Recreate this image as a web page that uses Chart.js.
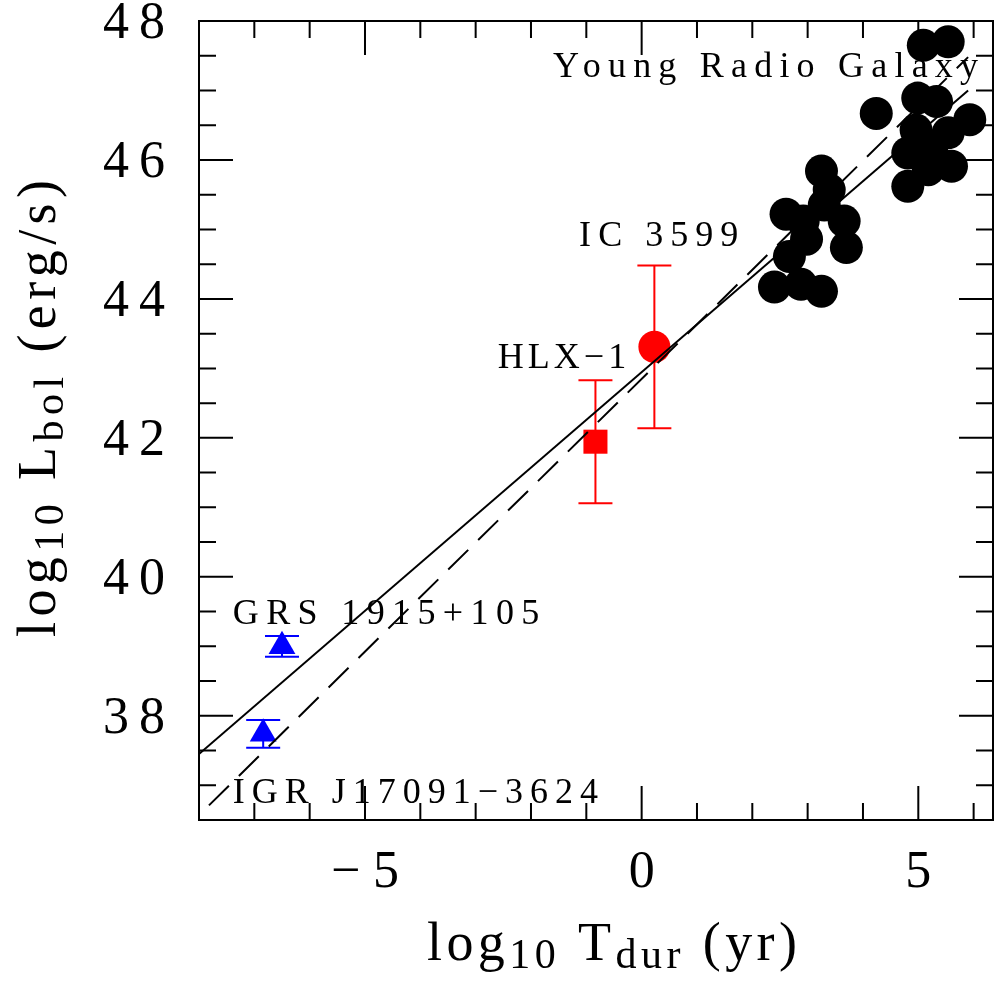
<!DOCTYPE html>
<html>
<head>
<meta charset="utf-8">
<script src="https://cdn.jsdelivr.net/npm/chart.js@4.4.1/dist/chart.umd.min.js"></script>
<style>
  html, body { margin: 0; padding: 0; background: #fff; overflow: hidden; }
  #wrap { width: 995px; height: 982px; overflow: hidden; }
  #c { display: block; }
</style>
</head>
<body>
<div id="wrap"><canvas id="c" width="995" height="982"></canvas></div>
<script>
// fit lines
const lineX = [-8, 5.9];
const solidY = [37.45, 47.0];
const dashX = [-7.82, 5.9];
const dashY = [36.71, 47.48];

// young radio galaxies (black)
const rgX = [3.25, 3.39, 3.30, 2.61, 2.92, 3.66, 2.98, 3.70, 2.67, 2.40, 2.88, 3.25,
             5.09, 5.54, 4.24, 4.99, 5.33, 5.93, 4.96, 5.54, 4.81, 5.24, 5.60, 4.81, 5.18];
const rgY = [45.84, 45.57, 45.35, 45.22, 45.12, 45.12, 44.86, 44.74, 44.61, 44.17, 44.21, 44.11,
             47.65, 47.70, 46.67, 46.89, 46.84, 46.58, 46.43, 46.39, 46.10, 46.15, 45.91, 45.62, 45.86];

// X-ray binaries (blue)
const xrbX = [-6.50, -6.84];
const xrbY = [39.0, 37.74];
const xrbErr = [0.15, 0.2];

// HLX-1 and IC 3599 (red)
const hlxX = [-0.835], hlxY = [41.945], hlxErr = [0.885];
const icX = [0.23], icY = [43.31], icErr = [1.17];

// tick labels
const xTickVals = [-5, 0, 5];
const xTickText = ['\u22125', '0', '5'];
const yTickVals = [38, 40, 42, 44, 46, 48];

// annotations
const noteText = ['Young Radio Galaxy', 'IC 3599', 'HLX\u22121', 'GRS 1915+105', 'IGR J17091\u22123624'];
const noteX0 = [-1.60, -1.13, -2.60, -7.39, -7.39];
const noteX1 = [6.08, 1.745, -0.28, -1.85, -0.79];
const noteY = [47.19, 44.76, 43.01, 39.32, 36.74];

const SERIF = '"Liberation Serif", "DejaVu Serif", serif';

function fitText(ctx, str, x0, w, y) {
  ctx.letterSpacing = '0px';
  ctx.textAlign = 'left';
  if (str.length < 2) { ctx.fillText(str, x0, y); return; }
  const nat = ctx.measureText(str).width;
  const sp = (w - nat) / (str.length - 1);
  ctx.letterSpacing = sp + 'px';
  ctx.fillText(str, x0, y);
  ctx.letterSpacing = '0px';
}

// pieces: [text, isSub]; drawn along +x from 0 with baseline 0
function richText(ctx, pieces, width, mainPx, subPx, subDrop) {
  let nat = 0, n = 0;
  pieces.forEach(p => {
    ctx.font = (p[1] ? subPx : mainPx) + 'px ' + SERIF;
    ctx.letterSpacing = '0px';
    nat += ctx.measureText(p[0]).width;
    n += p[0].length;
  });
  const sp = (width - nat) / (n - 1);
  let x = 0;
  ctx.textAlign = 'left';
  pieces.forEach(p => {
    ctx.font = (p[1] ? subPx : mainPx) + 'px ' + SERIF;
    ctx.letterSpacing = sp + 'px';
    ctx.fillText(p[0], x, p[1] ? subDrop : 0);
    x += ctx.measureText(p[0]).width;
  });
  ctx.letterSpacing = '0px';
}

const errPlugin = {
  id: 'errbars',
  beforeDatasetsDraw(chart) {
    const ctx = chart.ctx, xs = chart.scales.x, ys = chart.scales.y;
    const draw = (xa, ya, ea, color) => {
      ctx.save();
      ctx.strokeStyle = color;
      ctx.lineWidth = 2;
      xa.forEach((xv, i) => {
        const px = xs.getPixelForValue(xv);
        const top = ys.getPixelForValue(ya[i] + ea[i]);
        const bot = ys.getPixelForValue(ya[i] - ea[i]);
        ctx.beginPath();
        ctx.moveTo(px, top); ctx.lineTo(px, bot);
        ctx.moveTo(px - 17, top); ctx.lineTo(px + 17, top);
        ctx.moveTo(px - 17, bot); ctx.lineTo(px + 17, bot);
        ctx.stroke();
      });
      ctx.restore();
    };
    draw(xrbX, xrbY, xrbErr, '#0000ff');
    draw(hlxX, hlxY, hlxErr, '#ff0000');
    draw(icX, icY, icErr, '#ff0000');
  }
};

const framePlugin = {
  id: 'frame',
  beforeDraw(chart) {
    const ctx = chart.ctx;
    ctx.save();
    ctx.fillStyle = '#fff';
    ctx.fillRect(0, 0, chart.width, chart.height);
    ctx.restore();
  },
  afterDatasetsDraw(chart) {
    const ctx = chart.ctx, a = chart.chartArea;
    const xs = chart.scales.x, ys = chart.scales.y;
    ctx.save();
    ctx.strokeStyle = '#000';
    ctx.lineWidth = 2;
    ctx.strokeRect(a.left, a.top, a.right - a.left, a.bottom - a.top);

    ctx.beginPath();
    for (let v = -8; v <= 6; v++) {
      const px = xs.getPixelForValue(v);
      const len = (v % 5 === 0) ? 34 : 17;
      ctx.moveTo(px, a.bottom); ctx.lineTo(px, a.bottom - len);
      ctx.moveTo(px, a.top); ctx.lineTo(px, a.top + len);
    }
    for (let v = 37; v <= 48; v += 0.5) {
      const py = ys.getPixelForValue(v);
      const len = (v % 2 === 0) ? 34 : 17;
      ctx.moveTo(a.left, py); ctx.lineTo(a.left + len, py);
      ctx.moveTo(a.right, py); ctx.lineTo(a.right - len, py);
    }
    ctx.stroke();

    ctx.fillStyle = '#000';
    ctx.font = '52px ' + SERIF;
    xTickVals.forEach((v, i) => {
      const px = xs.getPixelForValue(v);
      const s = xTickText[i];
      if (s.length > 1) fitText(ctx, s, px - 34, 68, a.bottom + 67);
      else { ctx.textAlign = 'center'; ctx.fillText(s, px, a.bottom + 67); }
    });
    yTickVals.forEach(v => {
      const py = ys.getPixelForValue(v);
      fitText(ctx, String(v), a.left - 96, 62, py + 17);
    });

    // axis titles
    ctx.save();
    ctx.translate(427, 960);
    richText(ctx, [['log', 0], ['10', 1], [' T', 0], ['dur', 1], [' (yr)', 0]], 370, 54, 42, 8);
    ctx.restore();
    ctx.save();
    ctx.translate(55, 637);
    ctx.rotate(-Math.PI / 2);
    richText(ctx, [['log', 0], ['10', 1], [' L', 0], ['bol', 1], [' (erg/s)', 0]], 457, 54, 42, 8);
    ctx.restore();

    // annotations
    ctx.font = '36px ' + SERIF;
    noteText.forEach((t, i) => {
      const x0 = xs.getPixelForValue(noteX0[i]);
      const x1 = xs.getPixelForValue(noteX1[i]);
      fitText(ctx, t, x0, x1 - x0, ys.getPixelForValue(noteY[i]));
    });
    ctx.restore();
  }
};

const pts = (xa, ya) => xa.map((x, i) => ({ x: x, y: ya[i] }));

new Chart(document.getElementById('c').getContext('2d'), {
  type: 'scatter',
  data: {
    datasets: [
      { type: 'line', data: pts(lineX, solidY), borderColor: '#000', borderWidth: 2, pointRadius: 0, fill: false, tension: 0 },
      { type: 'line', data: pts(dashX, dashY), borderColor: '#000', borderWidth: 2, borderDash: [28, 14], pointRadius: 0, fill: false, tension: 0 },
      { data: pts(icX, icY), pointRadius: 16, backgroundColor: '#ff0000', borderWidth: 0 },
      { data: pts(hlxX, hlxY), pointStyle: 'rect', pointRadius: 17, backgroundColor: '#ff0000', borderWidth: 0 },
      { data: pts(xrbX, xrbY), pointStyle: 'triangle', pointRadius: 15.5, backgroundColor: '#0000ff', borderWidth: 0 },
      { data: pts(rgX, rgY), pointRadius: 16.5, backgroundColor: '#000', borderWidth: 0 }
    ]
  },
  options: {
    responsive: false,
    animation: false,
    devicePixelRatio: 1,
    layout: { autoPadding: false, padding: { left: 199, top: 21, right: 2, bottom: 162 } },
    plugins: { legend: { display: false }, tooltip: { enabled: false } },
    scales: {
      x: { type: 'linear', min: -8, max: 6.35, display: false },
      y: { type: 'linear', min: 36.5, max: 48, display: false }
    },
    elements: { point: { hoverRadius: 0 } }
  },
  plugins: [errPlugin, framePlugin]
});
</script>
</body>
</html>
